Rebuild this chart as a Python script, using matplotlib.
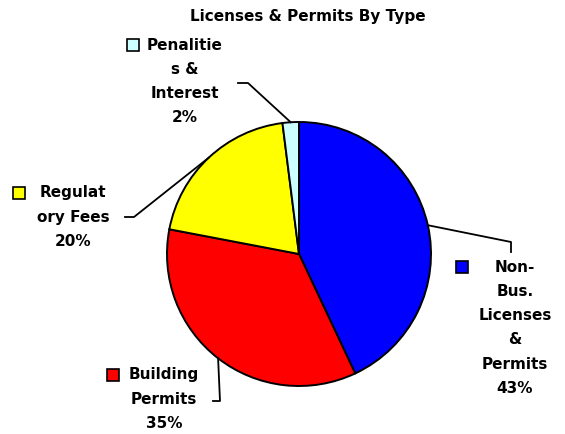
import numpy as np
import matplotlib
matplotlib.use("Agg")
import matplotlib.pyplot as plt

# data
categories = ["Non-\nBus.\nLicenses\n&\nPermits", "Building\nPermits",
              "Regulat\nory Fees", "Penalitie\ns &\nInterest"]
shares = [43, 35, 20, 2]
colors = ["#0000FF", "#FF0000", "#FFFF00", "#CCFFFF"]
title = "Licenses & Permits By Type"

W, H = 565, 434

fig = plt.figure(figsize=(W / 100, H / 100), dpi=100)
ax = fig.add_axes([0, 0, 1, 1])
ax.set_xlim(0, W)
ax.set_ylim(0, H)
ax.set_aspect("equal")
ax.axis("off")

# pie geometry in pixel units (y measured from the top)
cx, cy, r = 299, 254, 132
wedges, _ = ax.pie(shares, colors=colors, startangle=90, counterclock=False,
                   center=(cx, H - cy), radius=r,
                   wedgeprops=dict(edgecolor="black", linewidth=1.4))
ax.set_xlim(0, W)
ax.set_ylim(0, H)

# label layout: text centre x, first line y, marker x, elbow, line end
layout = [
    dict(tx=515, ty=267, mx=462, elbow=(511, 242), end=(511, 252)),
    dict(tx=164, ty=375, mx=113, elbow=(220, 401), end=(213, 401)),
    dict(tx=73, ty=193, mx=19, elbow=(134, 217), end=(125, 217)),
    dict(tx=185, ty=45, mx=133, elbow=(248, 83), end=(238, 83)),
]

font = dict(family="DejaVu Sans", weight="bold", size=11)
step = 24.3

for w, cat, val, col, lay in zip(wedges, categories, shares, colors, layout):
    lines = cat.split("\n") + [f"{val}%"]
    for i, ln in enumerate(lines):
        ax.text(lay["tx"], H - (lay["ty"] + i * step), ln, ha="center",
                va="center", **font)
    ax.plot([lay["mx"]], [H - lay["ty"]], marker="s", markersize=8,
            markerfacecolor=col, markeredgecolor="black",
            markeredgewidth=1.2, linestyle="none")
    # leader line from the middle of the wedge's arc
    mid = np.deg2rad((w.theta1 + w.theta2) / 2)
    px, py = w.center[0] + r * np.cos(mid), w.center[1] + r * np.sin(mid)
    ex, ey = lay["elbow"]
    fx, fy = lay["end"]
    ax.plot([px, ex, fx], [py, H - ey, H - fy], color="black", linewidth=1.3)

ax.text(308, H - 17, title, ha="center", va="center", **font)

fig.savefig("out.png", dpi=100, facecolor="white")
